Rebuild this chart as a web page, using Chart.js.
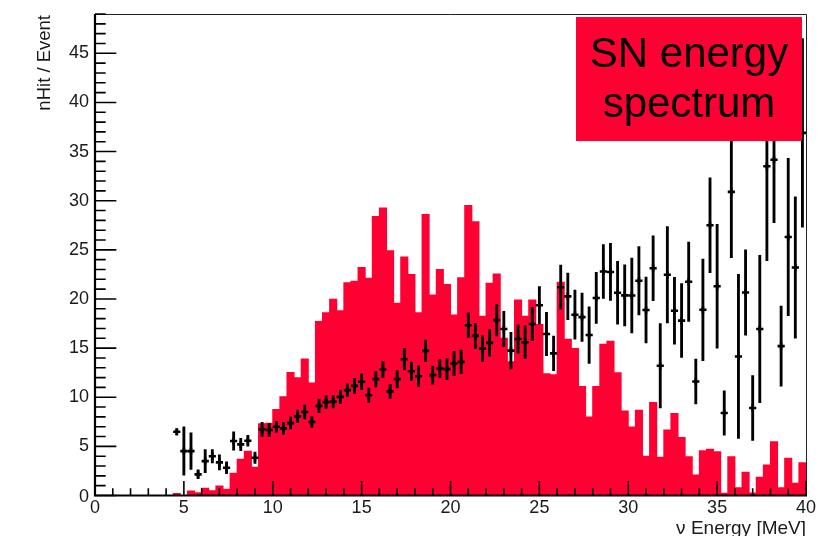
<!DOCTYPE html>
<html>
<head>
<meta charset="utf-8">
<script src="https://cdn.jsdelivr.net/npm/chart.js@4/dist/chart.umd.min.js"></script>
<style>
  html, body { margin: 0; padding: 0; background: #fff; }
  #wrap { width: 826px; height: 536px; }
</style>
</head>
<body>
<div id="wrap"><canvas id="c" width="826" height="536"></canvas></div>
<script>
// Histogram binning: 100 bins of 0.4 MeV between 0 and 40 MeV
const binLow = 0;
const binWidth = 0.4;
const nBins = 100;

// Simulated SN neutrino energy spectrum (filled histogram), one value per bin
const spectrumCounts = [
  0, 0, 0, 0, 0, 0, 0, 0, 0, 0,
  0, 0.2, 0, 0.46, 0.29, 0.73, 0.49, 0.97, 0.63, 2.27,
  3.68, 4.5, 2.87, 7.3, 7.35, 8.76, 10.04, 12.52, 11.98, 13.9,
  11.46, 17.7, 18.6, 19.97, 18.8, 21.66, 21.8, 23.2, 22.1, 28.4,
  29.25, 24.9, 19.56, 24.27, 22.5, 18.6, 28.6, 20.4, 22.99, 21.46,
  18.37, 22.17, 29.5, 27.85, 18.24, 21.6, 22.55, 16.0, 13.6, 19.9,
  18.24, 19.9, 17.4, 12.4, 12.3, 21.7, 15.9, 14.95, 11.1, 8.0,
  11.1, 15.4, 15.7, 12.5, 8.6, 6.97, 8.67, 4.0, 9.47, 3.9,
  6.66, 8.35, 5.9, 3.94, 2.08, 4.55, 4.7, 4.45, 0.22, 3.94,
  0.8, 2.36, 0.25, 1.85, 3.1, 5.47, 0.8, 3.78, 1.24, 3.33
];

// Mean nHit per event in each energy bin (profile), null where the bin is empty
const nHitMean = [
  null, null, null, null, null, null, null, null, null, null,
  null, 6.48, 4.52, 4.52, 2.15, 3.5, 4.0, 3.37, 2.83, 5.54,
  5.2, 5.57, 3.84, 6.73, 6.66, 7.0, 6.83, 7.37, 8.05, 8.5,
  7.48, 9.12, 9.5, 9.55, 10.04, 10.72, 11.16, 11.57, 10.2, 11.84,
  12.82, 10.6, 11.84, 13.87, 12.65, 12.14, 14.72, 12.25, 12.92, 12.86,
  13.43, 13.6, 17.33, 16.24, 14.95, 15.53, 17.85, 16.94, 14.74, 15.93,
  15.6, 17.45, 19.36, 16.43, 14.46, 21.2, 20.26, 18.4, 18.15, 16.33,
  20.1, 22.8, 22.75, 20.63, 20.37, 20.35, 21.85, 18.87, 23.13, 13.2,
  22.47, 18.8, 17.8, 21.75, 11.6, 18.9, 27.5, 21.3, 8.4, 30.9,
  14.15, 20.66, 8.9, 16.94, 33.5, 34.17, 15.2, 26.3, 23.2, 36.9
];

// Error on the mean nHit in each bin
const nHitError = [
  null, null, null, null, null, null, null, null, null, null,
  null, 0.3, 2.46, 1.87, 0.45, 1.17, 0.68, 0.76, 0.6, 0.93,
  0.63, 0.56, 0.58, 0.71, 0.66, 0.56, 0.6, 0.6, 0.65, 0.7,
  0.55, 0.7, 0.65, 0.63, 0.7, 0.64, 0.76, 0.81, 0.73, 0.8,
  0.81, 0.71, 0.88, 1.1, 0.93, 1.05, 1.1, 0.93, 0.91, 1.07,
  1.24, 1.19, 1.25, 1.27, 1.3, 1.35, 1.6, 1.8, 1.86, 1.44,
  1.66, 1.7, 1.9, 2.2, 1.76, 2.25, 2.37, 2.5, 2.46, 2.88,
  2.6, 2.74, 2.9, 3.2, 3.1, 3.8, 3.47, 3.35, 3.3, 4.3,
  4.9, 3.4, 3.76, 4.03, 2.29, 5.17, 4.83, 6.3, 2.25, 6.7,
  8.35, 4.35, 3.3, 7.5, 9.6, 6.4, 4.08, 8.0, 7.2, 9.6
];

// Axis ranges and tick labels
const xRange = [0, 40];
const yRange = [0, 49];
const xTickLabels = ['0', '5', '10', '15', '20', '25', '30', '35', '40'];
const yTickLabels = ['0', '5', '10', '15', '20', '25', '30', '35', '40', '45'];
const xTitle = 'ν Energy [MeV]';
const yTitle = 'nHit / Event';
const boxLines = ['SN energy', 'spectrum'];

const RED = 'rgb(255, 0, 51)';
const FONT = "'Liberation Sans', Arial, Helvetica, sans-serif";

const binCenter = i => binLow + (i + 0.5) * binWidth;

const histData = [];
spectrumCounts.forEach((v, i) => { if (v > 0) histData.push({ x: binCenter(i), y: v }); });

const errData = [];
const meanData = [];
nHitMean.forEach((m, i) => {
  if (m === null) return;
  const e = nHitError[i];
  errData.push({ x: binCenter(i), y: [m - e, m + e] });
  meanData.push({ x: binCenter(i), y: m });
});

// Draws ROOT-style axes (inward ticks), labels, frame and the title box
const rootFrame = {
  id: 'rootFrame',
  afterDatasetsDraw(chart) {
    const { ctx, chartArea: a, scales } = chart;
    const xs = scales.x, ys = scales.y;
    const w = a.right - a.left, h = a.bottom - a.top;
    ctx.save();

    // thin frame on top and right
    ctx.strokeStyle = '#222';
    ctx.lineWidth = 1;
    ctx.beginPath();
    ctx.moveTo(a.left, a.top + 0.5);
    ctx.lineTo(a.right + 0.5, a.top + 0.5);
    ctx.lineTo(a.right + 0.5, a.bottom);
    ctx.stroke();

    // ticks
    ctx.strokeStyle = '#000';
    ctx.lineWidth = 1.6;
    ctx.beginPath();
    for (let v = xRange[0]; v <= xRange[1]; v += 1) {
      const px = xs.getPixelForValue(v);
      const len = (v % 5 === 0) ? 0.03 * h : 0.015 * h;
      ctx.moveTo(px, a.bottom);
      ctx.lineTo(px, a.bottom - len);
    }
    for (let v = yRange[0]; v <= Math.floor(yRange[1]); v += 1) {
      const py = ys.getPixelForValue(v);
      const len = (v % 5 === 0) ? 0.03 * w : 0.015 * w;
      ctx.moveTo(a.left, py);
      ctx.lineTo(a.left + len, py);
    }
    ctx.stroke();

    // axis lines
    ctx.lineWidth = 2.2;
    ctx.beginPath();
    ctx.moveTo(a.left, a.top);
    ctx.lineTo(a.left, a.bottom);
    ctx.lineTo(a.right + 1, a.bottom);
    ctx.stroke();

    // tick labels
    ctx.fillStyle = '#1a1a1a';
    ctx.font = '18px ' + FONT;
    ctx.textAlign = 'center';
    ctx.textBaseline = 'middle';
    xTickLabels.forEach(t => {
      ctx.fillText(t, xs.getPixelForValue(parseFloat(t)), a.bottom + 13);
    });
    ctx.textAlign = 'right';
    yTickLabels.forEach(t => {
      const v = parseFloat(t);
      const py = ys.getPixelForValue(v) + (v === 0 ? 2 : 0);
      ctx.fillText(t, a.left - 6, py);
    });

    // axis titles
    ctx.font = '19px ' + FONT;
    ctx.textAlign = 'right';
    ctx.textBaseline = 'alphabetic';
    ctx.fillText(xTitle, a.right, a.bottom + 38.5);
    ctx.font = '18.5px ' + FONT;
    ctx.save();
    ctx.translate(50, a.top + 1);
    ctx.rotate(-Math.PI / 2);
    ctx.fillText(yTitle, 0, 0);
    ctx.restore();

    // title box
    ctx.fillStyle = RED;
    ctx.fillRect(576, 17, 226, 124);
    ctx.fillStyle = '#000';
    ctx.font = '42px ' + FONT;
    ctx.textAlign = 'center';
    ctx.fillText(boxLines[0], 689, 67);
    ctx.fillText(boxLines[1], 689, 117);

    ctx.restore();
  }
};

new Chart(document.getElementById('c'), {
  type: 'bar',
  data: {
    datasets: [
      {
        type: 'scatter',
        data: meanData,
        pointStyle: 'cross',
        radius: 3.6,
        borderWidth: 2.6,
        borderColor: '#000',
        backgroundColor: '#000',
        showLine: false,
        order: 1
      },
      {
        type: 'bar',
        data: errData,
        backgroundColor: '#000',
        borderWidth: 0,
        barThickness: 2.2,
        grouped: false,
        order: 2
      },
      {
        type: 'bar',
        data: histData,
        backgroundColor: RED,
        borderWidth: 0,
        barPercentage: 1,
        categoryPercentage: 1,
        inflateAmount: 0.5,
        grouped: false,
        order: 3
      }
    ]
  },
  options: {
    responsive: false,
    animation: false,
    events: [],
    layout: { padding: { left: 95, top: 14, right: 20, bottom: 40.5 } },
    plugins: { legend: { display: false }, tooltip: { enabled: false }, title: { display: false } },
    scales: {
      x: { type: 'linear', display: false, min: xRange[0], max: xRange[1], offset: false },
      y: { type: 'linear', display: false, min: yRange[0], max: yRange[1] }
    }
  },
  plugins: [rootFrame]
});
</script>
</body>
</html>
